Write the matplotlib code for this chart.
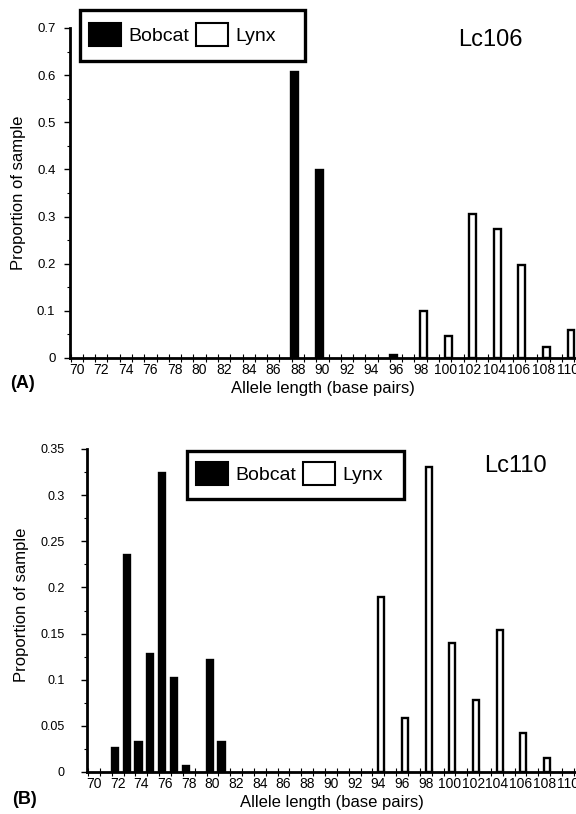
import matplotlib
matplotlib.use('Agg')
import matplotlib.pyplot as plt
from matplotlib.patches import Patch, Rectangle
from matplotlib.ticker import FixedLocator, FuncFormatter, MultipleLocator
import numpy as np

plt.rcParams['font.family'] = ['Liberation Sans', 'DejaVu Sans']

W, H = 576, 814

# Lc106 (panel A)
a_bobcat_len = [88, 90, 96]
a_bobcat_prop = [0.606, 0.398, 0.006]
a_lynx_len = [98, 100, 102, 104, 106, 108, 110]
a_lynx_prop = [0.100, 0.046, 0.306, 0.274, 0.198, 0.024, 0.060]

# Lc110 (panel B)
b_bobcat_len = [72, 73, 74, 75, 76, 77, 78, 80, 81]
b_bobcat_prop = [0.026, 0.235, 0.033, 0.128, 0.324, 0.102, 0.007, 0.121, 0.033]
b_lynx_len = [94, 96, 98, 100, 102, 104, 106, 108]
b_lynx_prop = [0.190, 0.059, 0.330, 0.140, 0.078, 0.154, 0.042, 0.015]

x_labels = list(range(70, 111, 2))


def fig_rect(x0, y0, x1, y1):
    # pixel box (top-left origin) -> figure fraction [left, bottom, width, height]
    return [x0 / W, 1 - y1 / H, (x1 - x0) / W, (y1 - y0) / H]


def yfmt(v, pos):
    return '0' if abs(v) < 1e-9 else f'{v:g}'


def draw_panel(ax, bob_x, bob_y, lyn_x, lyn_y, ymax, ystep, xlim, width,
               ytick_size, ypad, locus, locus_xy, ylab_x, ylab_y):
    ax.bar(np.array(bob_x) - 0.24, bob_y, width=width, color='black',
           edgecolor='black', linewidth=1.7, zorder=2)
    ax.bar(np.array(lyn_x) + 0.24, lyn_y, width=width, color='white',
           edgecolor='black', linewidth=1.7, zorder=2)

    ax.set_xlim(*xlim)
    ax.set_ylim(0, ymax)
    for s in ['top', 'right']:
        ax.spines[s].set_visible(False)
    for s in ['left', 'bottom']:
        ax.spines[s].set_linewidth(2)
        ax.spines[s].set_zorder(3)

    ax.xaxis.set_major_locator(FixedLocator(x_labels))
    ax.set_xticklabels([str(v) for v in x_labels])
    ax.xaxis.set_minor_locator(FixedLocator(np.arange(69.5, 111, 1.0)))
    ax.tick_params(axis='x', which='major', length=0, pad=3.5, labelsize=10)
    ax.tick_params(axis='x', which='minor', direction='inout', length=6, width=0.8)

    ax.yaxis.set_major_locator(MultipleLocator(ystep))
    ax.yaxis.set_minor_locator(MultipleLocator(ystep / 2))
    ax.yaxis.set_major_formatter(FuncFormatter(yfmt))
    ax.tick_params(axis='y', which='major', direction='out', length=4, width=1,
                   labelsize=ytick_size, pad=ypad)
    ax.tick_params(axis='y', which='minor', direction='out', length=2, width=0.8)

    ax.set_ylabel('Proportion of sample', fontsize=12)
    ax.yaxis.set_label_coords(ylab_x, ylab_y)
    ax.set_xlabel('Allele length (base pairs)', fontsize=12)
    ax.xaxis.set_label_coords(0.5, -0.07)

    ax.text(locus_xy[0], locus_xy[1], locus, transform=ax.transAxes,
            ha='center', va='center', fontsize=17)


def add_legend(fig, anchor_px, box_px):
    handles = [Patch(facecolor='black', edgecolor='black', linewidth=1.5, label='Bobcat'),
               Patch(facecolor='white', edgecolor='black', linewidth=1.5, label='Lynx')]
    fig.legend(handles=handles, loc='upper left', ncol=2, frameon=False,
               bbox_to_anchor=(anchor_px[0] / W, 1 - anchor_px[1] / H),
               bbox_transform=fig.transFigure, borderpad=0, borderaxespad=0,
               handlelength=1.65, handleheight=1.44, handletextpad=0.4,
               columnspacing=0.3, fontsize=14)
    x0, y0, x1, y1 = box_px
    fig.add_artist(Rectangle((x0 / W, 1 - y1 / H), (x1 - x0) / W, (y1 - y0) / H,
                             transform=fig.transFigure, fill=False,
                             edgecolor='black', linewidth=2.4))


fig = plt.figure(figsize=(W / 100, H / 100), dpi=100)

ax_a = fig.add_axes(fig_rect(70, 28, 576, 358))
draw_panel(ax_a, a_bobcat_len, a_bobcat_prop, a_lynx_len, a_lynx_prop,
           0.7, 0.1, (69.45, 110.65), 0.56, 9.5, 6.5, 'Lc106', (0.83, 0.964),
           -0.087, 0.5)
add_legend(fig, (89, 23), (80, 10, 305, 61))
fig.text(10 / W, 1 - 383 / H, '(A)', fontsize=13, fontweight='bold', va='center')

ax_b = fig.add_axes(fig_rect(87, 449, 576, 772))
draw_panel(ax_b, b_bobcat_len, b_bobcat_prop, b_lynx_len, b_lynx_prop,
           0.35, 0.05, (69.41, 110.68), 0.52, 9, 12, 'Lc110', (0.877, 0.947),
           -0.1186, 0.517)
add_legend(fig, (196, 462), (187, 451, 404, 499))
fig.text(12 / W, 1 - 800 / H, '(B)', fontsize=13, fontweight='bold', va='center')

fig.savefig('out.png', dpi=100)
